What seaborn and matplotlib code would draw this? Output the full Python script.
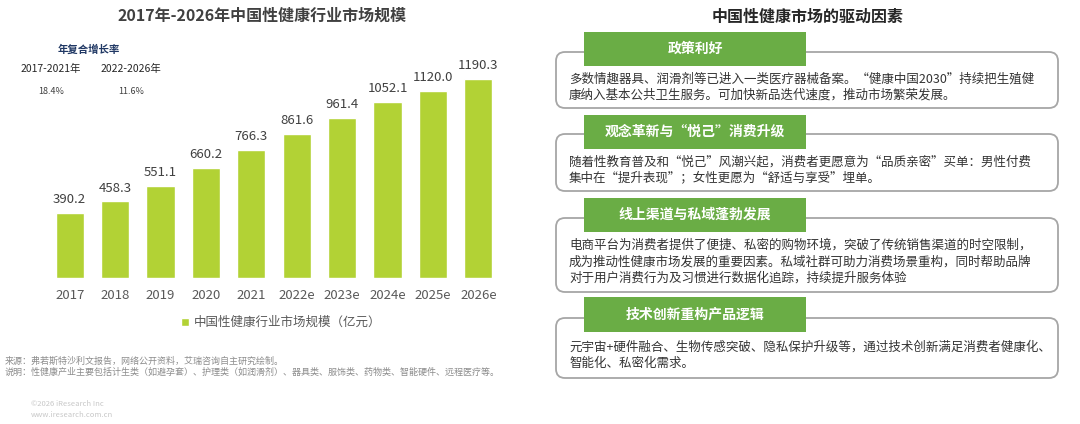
import matplotlib
matplotlib.use("Agg")
import matplotlib.pyplot as plt
import seaborn as sns
import pandas as pd
from matplotlib.patches import FancyBboxPatch, Rectangle

sns.set_theme(style="white")
plt.rcParams['font.family'] = ['Noto Sans CJK SC', 'DejaVu Sans']

# data
years = ['2017', '2018', '2019', '2020', '2021', '2022e', '2023e', '2024e', '2025e', '2026e']
market_size = [390.2, 458.3, 551.1, 660.2, 766.3, 861.6, 961.4, 1052.1, 1120.0, 1190.3]
cagr_periods = ['2017-2021年', '2022-2026年']
cagr_values = ['18.4%', '11.6%']

left_title = '2017年-2026年中国性健康行业市场规模'
right_title = '中国性健康市场的驱动因素'
legend_label = '中国性健康行业市场规模（亿元）'
source_lines = ['来源：弗若斯特沙利文报告，网络公开资料，艾瑞咨询自主研究绘制。',
                '说明：性健康产业主要包括计生类（如避孕套）、护理类（如润滑剂）、器具类、服饰类、药物类、智能硬件、远程医疗等。']

driver_titles = ['政策利好', '观念革新与“悦己”消费升级', '线上渠道与私域蓬勃发展', '技术创新重构产品逻辑']
driver_texts = [
    ['多数情趣器具、润滑剂等已进入一类医疗器械备案。“健康中国2030”持续把生殖健',
     '康纳入基本公共卫生服务。可加快新品迭代速度，推动市场繁荣发展。'],
    ['随着性教育普及和“悦己”风潮兴起，消费者更愿意为“品质亲密”买单：男性付费',
     '集中在“提升表现”；女性更愿为“舒适与享受”埋单。'],
    ['电商平台为消费者提供了便捷、私密的购物环境，突破了传统销售渠道的时空限制，',
     '成为推动性健康市场发展的重要因素。私域社群可助力消费场景重构，同时帮助品牌',
     '对于用户消费行为及习惯进行数据化追踪，持续提升服务体验'],
    ['元宇宙+硬件融合、生物传感突破、隐私保护升级等，通过技术创新满足消费者健康化、',
     '智能化、私密化需求。'],
]

BAR = '#b2d235'
HEAD = '#6aad45'
W, H = 1080, 424

fig = plt.figure(figsize=(W / 100, H / 100), dpi=100)

# overlay in pixel coordinates for text and boxes
ov = fig.add_axes([0, 0, 1, 1])
ov.set_xlim(0, W)
ov.set_ylim(H, 0)
ov.axis('off')

# bar chart
ax = fig.add_axes([47 / W, 146 / H, 454 / W, 217 / H])
df = pd.DataFrame({'year': years, 'value': market_size})
sns.barplot(data=df, x='year', y='value', color=BAR, width=0.62, saturation=1,
            label=legend_label, ax=ax)
ax.set_ylim(0, 1300)
ax.set_xlim(-0.5, len(years) - 0.5)
ax.bar_label(ax.containers[0], labels=[f'{v:.1f}' for v in market_size],
             padding=5, fontsize=9.5, color='#404040')
ax.set_xlabel('')
ax.set_ylabel('')
ax.set_yticks([])
ax.tick_params(axis='x', length=0, pad=8, labelsize=9.5, labelcolor='#595959')
for s in ax.spines.values():
    s.set_visible(False)
ax.patch.set_alpha(0)
ax.legend(loc='center', bbox_to_anchor=(234 / 454, -0.205), frameon=False,
          fontsize=9, labelcolor='#595959', handlelength=0.6, handleheight=0.6,
          handletextpad=0.4)

# left texts
ov.text(262, 16, left_title, ha='center', va='center', fontsize=11.5,
        fontweight='bold', color='#404040')
ov.text(89, 50, '年复合增长率', ha='center', va='center', fontsize=7.5,
        fontweight='bold', color='#203864')
for x, p, v in zip([51, 131], cagr_periods, cagr_values):
    ov.text(x, 69, p, ha='center', va='center', fontsize=7.5, color='#262626')
    ov.text(x, 91, v, ha='center', va='center', fontsize=6.5, color='#404040')
for i, line in enumerate(source_lines):
    ov.text(5, 361 + i * 11, line, ha='left', va='center', fontsize=6.5, color='#8c8c8c')
ov.text(31, 404, '©2026 iResearch Inc', ha='left', va='center', fontsize=5.5, color='#c8c8c8')
ov.text(31, 415, 'www.iresearch.com.cn', ha='left', va='center', fontsize=5.5, color='#c8c8c8')

# right panel
ov.text(808, 17, right_title, ha='center', va='center', fontsize=11.5,
        fontweight='bold', color='#262626')
box_tops = [52, 134, 218, 318]
box_bottoms = [108, 191, 292, 378]
head_tops = [32, 115, 198, 297]
head_bottoms = [66, 149, 232, 332]
for t, b, ht, hb, title, lines in zip(box_tops, box_bottoms, head_tops, head_bottoms,
                                      driver_titles, driver_texts):
    ov.add_patch(FancyBboxPatch((556, t), 502, b - t,
                                boxstyle='round,pad=0,rounding_size=9',
                                fc='white', ec='#a6a6a6', lw=1.3))
    ov.add_patch(Rectangle((584, ht), 222, hb - ht, fc=HEAD, ec='none'))
    ov.text(695, (ht + hb) / 2, title, ha='center', va='center', fontsize=10,
            fontweight='bold', color='white')
    n = len(lines)
    step = 16.5
    y0 = hb + (b - hb) / 2 - step * (n - 1) / 2
    for k, line in enumerate(lines):
        ov.text(569, y0 + k * step, line, ha='left', va='center', fontsize=9,
                color='#333333')

fig.savefig('out.png', dpi=100)
